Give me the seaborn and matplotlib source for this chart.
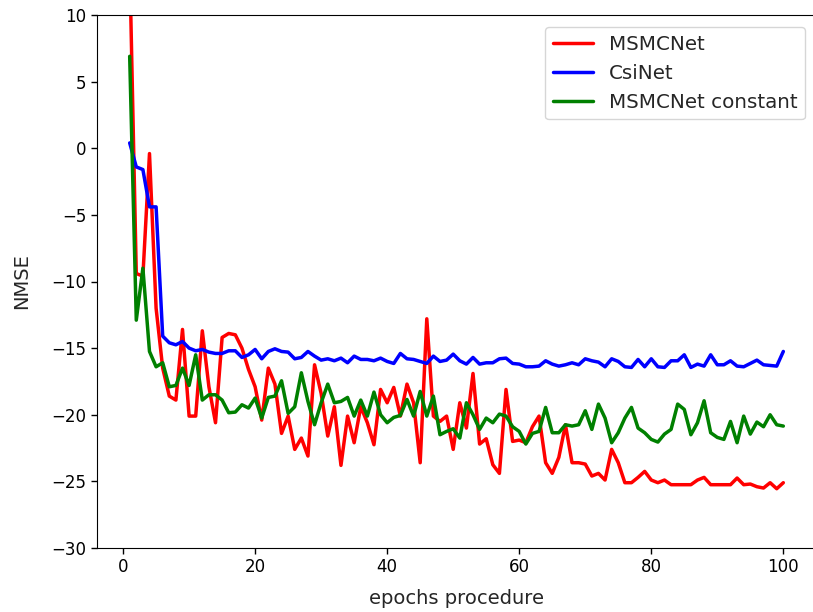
import numpy as np
import pandas as pd
import matplotlib
matplotlib.use("Agg")
import matplotlib.pyplot as plt
import seaborn as sns

# epochs 1..100
epochs = np.arange(1, 101)

msmcnet = [
    14.0, -9.4, -9.6, -0.4, -12.0, -16.5, -18.6, -18.9, -13.6, -20.1,
    -20.1, -13.7, -17.9, -20.6, -14.2, -13.9, -14.0, -15.0, -16.6, -17.9,
    -20.4, -16.5, -17.7, -21.4, -20.1, -22.6, -21.75, -23.1, -16.25, -18.4,
    -21.6, -19.4, -23.8, -20.1, -22.1, -19.4, -20.6, -22.25, -18.1, -19.1,
    -17.95, -20.1, -17.7, -19.1, -23.6, -12.8, -20.1, -20.5, -20.1, -22.6,
    -19.1, -21.0, -16.9, -22.2, -21.8, -23.75, -24.4, -18.1, -22.0, -21.9,
    -22.1, -20.9, -20.1, -23.6, -24.4, -23.2, -20.75, -23.6, -23.6, -23.7,
    -24.6, -24.4, -24.9, -22.6, -23.6, -25.1, -25.1, -24.7, -24.25, -24.9,
    -25.1, -24.9, -25.25, -25.25, -25.25, -25.25, -24.9, -24.7, -25.25, -25.25,
    -25.25, -25.25, -24.75, -25.25, -25.2, -25.4, -25.5, -25.1, -25.55, -25.1,
]

csinet = [
    0.4, -1.4, -1.6, -4.4, -4.4, -14.1, -14.6, -14.75, -14.5, -15.0,
    -15.2, -15.1, -15.3, -15.4, -15.4, -15.2, -15.2, -15.7, -15.5, -15.1,
    -15.8, -15.25, -15.05, -15.25, -15.3, -15.8, -15.7, -15.25, -15.6, -15.9,
    -15.8, -15.95, -15.75, -16.1, -15.6, -15.85, -15.85, -15.95, -15.75, -16.0,
    -16.15, -15.4, -15.8, -15.85, -16.0, -16.15, -15.6, -16.0, -15.9, -15.45,
    -15.95, -16.2, -15.7, -16.2, -16.1, -16.1, -15.8, -15.75, -16.15, -16.2,
    -16.4, -16.4, -16.35, -15.95, -16.2, -16.35, -16.25, -16.1, -16.25, -15.8,
    -15.95, -16.05, -16.4, -15.8, -16.0, -16.4, -16.45, -15.85, -16.4, -15.8,
    -16.4, -16.45, -15.95, -15.95, -15.5, -16.45, -16.2, -16.35, -15.5, -16.25,
    -16.25, -15.95, -16.35, -16.4, -16.15, -15.9, -16.25, -16.3, -16.35, -15.25,
]

msmcnet_const = [
    6.9, -12.9, -9.0, -15.25, -16.4, -16.1, -17.9, -17.8, -16.5, -17.8,
    -15.5, -18.9, -18.5, -18.5, -18.9, -19.85, -19.8, -19.25, -19.5, -18.75,
    -20.25, -18.7, -18.6, -17.45, -19.9, -19.4, -16.85, -19.0, -20.75, -19.1,
    -17.7, -19.1, -19.0, -18.7, -20.1, -18.9, -20.1, -18.3, -20.0, -20.6,
    -20.2, -20.05, -18.85, -20.1, -18.25, -20.1, -18.6, -21.5, -21.25, -21.05,
    -21.75, -19.1, -20.0, -21.1, -20.25, -20.6, -19.95, -20.1, -20.9, -21.25,
    -22.2, -21.4, -21.25, -19.45, -21.35, -21.35, -20.75, -20.85, -20.75, -19.7,
    -21.1, -19.2, -20.25, -22.1, -21.35, -20.25, -19.45, -21.0, -21.35, -21.85,
    -22.05, -21.45, -21.1, -19.2, -19.6, -21.5, -20.6, -18.95, -21.35, -21.7,
    -21.85, -20.5, -22.1, -20.1, -21.45, -20.55, -20.9, -20.0, -20.75, -20.85,
]

series_names = ["MSMCNet", "CsiNet", "MSMCNet constant"]
palette = {"MSMCNet": "#ff0000", "CsiNet": "#0000ff", "MSMCNet constant": "#008000"}

df = pd.DataFrame({
    "epoch": np.tile(epochs, 3),
    "NMSE": msmcnet + csinet + msmcnet_const,
    "model": np.repeat(series_names, len(epochs)),
})

sns.set_style("ticks")
plt.rcParams["font.family"] = ["DejaVu Sans"]
plt.rcParams["axes.edgecolor"] = "black"
plt.rcParams["xtick.color"] = "black"
plt.rcParams["ytick.color"] = "black"

fig = plt.figure(figsize=(8.13, 6.12), dpi=100)
# axes run a little past the right edge, like the cropped original
ax = fig.add_axes([97 / 813, 64 / 612, 719 / 813, 533 / 612])

sns.lineplot(data=df, x="epoch", y="NMSE", hue="model", hue_order=series_names,
             palette=palette, linewidth=2.5, ax=ax)

ax.set_ylim(-30, 10)
ax.set_xlim(-3.95, 104.95)
ax.set_xticks([0, 20, 40, 60, 80, 100])
ax.set_yticks([-30, -25, -20, -15, -10, -5, 0, 5, 10])
ax.tick_params(axis="both", labelsize=12, length=4, width=1)
ax.set_xlabel("epochs procedure", fontsize=14, labelpad=9)
ax.set_ylabel("NMSE", fontsize=14, labelpad=15)

leg = ax.legend(loc="upper right", bbox_to_anchor=(0.985, 0.978), borderaxespad=0,
                fontsize=14.3, frameon=True, fancybox=True)
for line in leg.get_lines():
    line.set_linewidth(2.5)

fig.savefig("out.png", dpi=100)
